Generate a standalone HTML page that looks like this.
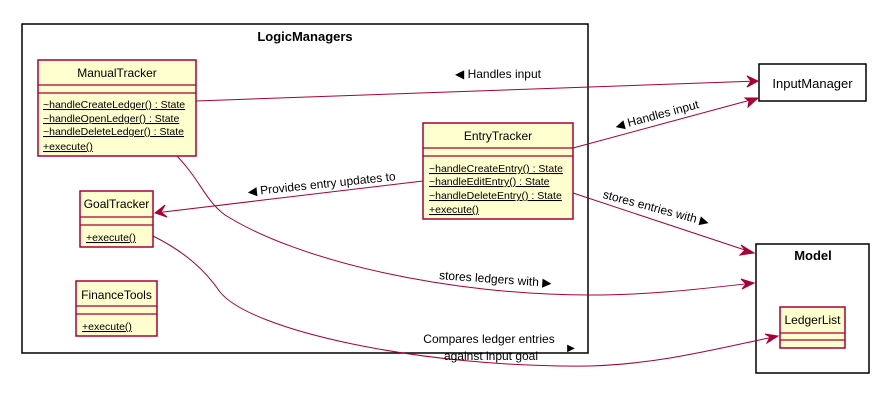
<!DOCTYPE html>
<html><head><meta charset="utf-8"><style>
html,body{margin:0;padding:0;background:#fff;}
svg{display:block;}
text{font-family:"Liberation Sans",sans-serif;font-size:12px;fill:#000;}
.sm{font-size:10.5px;}
.b{font-weight:bold;font-size:13px;}
.c{fill:#FEFECE;stroke:#A80036;stroke-width:1.5;}
.l{stroke:#A80036;stroke-width:1.2;fill:none;}
.e{stroke:#A80036;stroke-width:1;fill:none;}
.a{stroke:#A80036;stroke-width:1;fill:#A80036;}
.u{text-decoration:underline;}
</style></head><body>
<svg width="879" height="419" viewBox="0 0 879 419">
<rect x="22" y="24" width="566" height="329" fill="none" stroke="#000" stroke-width="1.5"/>
<text x="305" y="41" class="b" text-anchor="middle">LogicManagers</text>
<rect x="756" y="244" width="113" height="129" fill="none" stroke="#000" stroke-width="1.5"/>
<text x="813" y="260" class="b" text-anchor="middle">Model</text>
<rect x="759" y="64" width="107" height="37" fill="#fff" stroke="#000" stroke-width="1.5"/>
<text x="812.5" y="88" text-anchor="middle" style="font-size:13px">InputManager</text>

<rect class="c" x="38" y="60" width="158" height="96"/>
<line class="l" x1="38" y1="85" x2="196" y2="85"/><line class="l" x1="38" y1="93" x2="196" y2="93"/>
<text x="117" y="77" text-anchor="middle">ManualTracker</text>
<text x="43" y="108" class="sm u">~handleCreateLedger() : State</text>
<text x="43" y="122" class="sm u">~handleOpenLedger() : State</text>
<text x="43" y="135" class="sm u">~handleDeleteLedger() : State</text>
<text x="43" y="150" class="sm u">+execute()</text>

<rect class="c" x="423" y="123" width="150" height="96"/>
<line class="l" x1="423" y1="148" x2="573" y2="148"/><line class="l" x1="423" y1="156" x2="573" y2="156"/>
<text x="498" y="140" text-anchor="middle">EntryTracker</text>
<text x="429" y="172" class="sm u">~handleCreateEntry() : State</text>
<text x="429" y="185" class="sm u">~handleEditEntry() : State</text>
<text x="429" y="199" class="sm u">~handleDeleteEntry() : State</text>
<text x="429" y="213" class="sm u">+execute()</text>

<rect class="c" x="80" y="191" width="73" height="56"/>
<line class="l" x1="80" y1="217" x2="153" y2="217"/><line class="l" x1="80" y1="225" x2="153" y2="225"/>
<text x="116.5" y="208" text-anchor="middle">GoalTracker</text>
<text x="86" y="241" class="sm u">+execute()</text>

<rect class="c" x="76" y="281" width="81" height="55"/>
<line class="l" x1="76" y1="306" x2="157" y2="306"/><line class="l" x1="76" y1="314" x2="157" y2="314"/>
<text x="116.5" y="299" text-anchor="middle">FinanceTools</text>
<text x="82" y="330" class="sm u">+execute()</text>

<rect class="c" x="780" y="307" width="65" height="41"/>
<line class="l" x1="780" y1="333" x2="845" y2="333"/><line class="l" x1="780" y1="340" x2="845" y2="340"/>
<text x="812.5" y="324" text-anchor="middle">LedgerList</text>

<path class="e" d="M196,101 L758,81"/>
<path class="a" d="M747,76 L758,81 L747,87 L751,81 Z"/>
<text x="498" y="78" text-anchor="middle">◀ Handles input</text>

<path class="e" d="M573,148 L758,98"/>
<path class="a" d="M745,98 L758,98 L748,107 L749,101 Z"/>
<text transform="translate(658,119) rotate(-15)" text-anchor="middle">◀ Handles input</text>

<path class="e" d="M423,181 L155,213"/>
<path class="a" d="M165,205 L155,213 L167,217 L161,212 Z"/>
<text transform="translate(322,188) rotate(-6)" text-anchor="middle">◀ Provides entry updates to</text>

<path class="e" d="M573,193 L754,253"/>
<path class="a" d="M741,245 L754,253 L740,255 L745,250 Z"/>
<text transform="translate(655,212) rotate(15)" text-anchor="middle">stores entries with ▶</text>

<path class="e" d="M177,156 C200,180 205,200 225,215 C300,262 450,295 590,295 C650,295 700,289 754,283"/>
<path class="a" d="M741,279 L754,283 L742,289 L746,284 Z"/>
<text transform="translate(495,283) rotate(4)" text-anchor="middle">stores ledgers with ▶</text>

<path class="e" d="M153,236 C185,252 205,270 220,292 C250,330 420,368 590,366 C660,364 720,348 778,336"/>
<path class="a" d="M765,334 L778,336 L767,343 L770,337 Z"/>
<text x="489" y="343" text-anchor="middle">Compares ledger entries</text>
<text x="491" y="360" text-anchor="middle">against input goal</text>
<text x="571" y="351" text-anchor="middle" style="font-size:10px">▶</text>
</svg>
</body></html>
